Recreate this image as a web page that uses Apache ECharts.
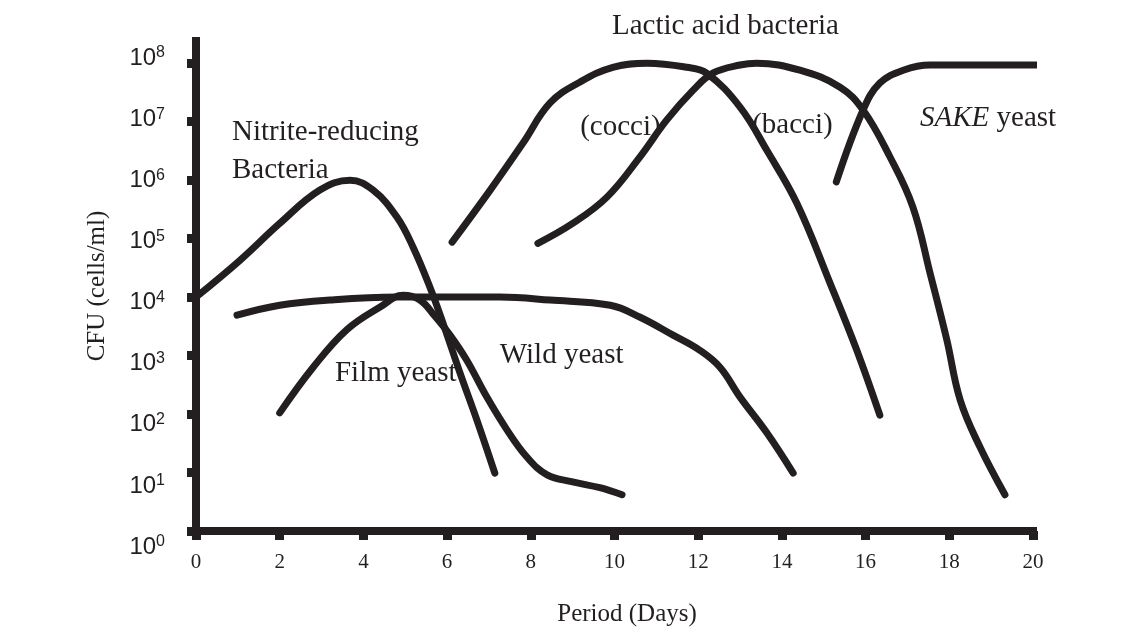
<!DOCTYPE html>
<html>
<head>
<meta charset="utf-8">
<script src="https://cdn.jsdelivr.net/npm/echarts@6/dist/echarts.min.js"></script>
<style>
html,body{margin:0;padding:0;background:#fff;}
#chart{width:1143px;height:632px;}
</style>
</head>
<body>
<div id="chart"></div>
<script>
// Days (x) and log10(CFU per ml) (y)
const nitriteReducing = [[0,4.0],[1.05,4.63],[2.0,5.26],[2.96,5.83],[3.68,6.0],[4.23,5.83],[4.8,5.37],[5.19,4.85],[5.59,4.17],[5.9,3.56],[6.31,2.7],[6.71,1.9],[7.14,0.99]];
const filmYeast = [[2.0,2.02],[2.8,2.8],[3.6,3.44],[4.4,3.83],[4.95,4.03],[5.35,3.95],[5.7,3.68],[6.07,3.35],[6.47,2.92],[6.95,2.29],[7.43,1.73],[7.9,1.27],[8.39,0.96],[9.0,0.84],[9.65,0.74],[10.18,0.62]];
const wildYeast = [[0.98,3.69],[2.0,3.86],[3.2,3.95],[4.8,4.0],[6.0,4.0],[7.26,4.0],[8.46,3.95],[9.9,3.86],[10.6,3.66],[11.4,3.35],[12.04,3.09],[12.52,2.8],[13.0,2.29],[13.64,1.68],[14.27,0.99]];
const lacticCocci = [[6.12,4.94],[7.03,5.83],[7.81,6.63],[8.46,7.32],[9.18,7.68],[9.96,7.93],[10.78,8.0],[11.73,7.93],[12.2,7.83],[13.0,7.25],[13.64,6.51],[14.36,5.6],[15.15,4.24],[15.79,3.09],[16.34,1.98]];
const lacticBacci = [[8.17,4.92],[9.0,5.26],[9.82,5.71],[10.6,6.39],[11.25,7.03],[11.88,7.54],[12.35,7.83],[13.0,7.97],[13.4,8.0],[14.43,7.88],[15.39,7.59],[15.94,7.2],[16.58,6.4],[17.13,5.54],[17.54,4.41],[17.94,3.27],[18.26,2.24],[18.73,1.44],[19.33,0.62]];
const sakeYeast = [[15.3,5.97],[15.94,7.2],[16.34,7.66],[16.9,7.88],[17.54,7.97],[18.1,7.97],[20.4,7.97]];

const xTicks = [0,2,4,6,8,10,12,14,16,18,20];
const yExponents = [0,1,2,3,4,5,6,7,8];

// Annotation texts placed in data coordinates [day, log10 CFU]
const annotations = [
  {text:'Lactic acid bacteria', at:[9.94,8.63]},
  {text:'Nitrite-reducing\nBacteria', at:[0.86,6.49]},
  {text:'(cocci)', at:[9.18,6.91]},
  {text:'(bacci)', at:[13.29,6.94]},
  {text:'{i|SAKE} yeast', at:[17.30,7.06]},
  {text:'Film yeast', at:[3.32,2.70]},
  {text:'Wild yeast', at:[7.26,3.01]}
];

const INK = '#231f20';
const SERIF = 'Liberation Serif';
const SANS = 'Liberation Sans';

function curve(name, data){
  return {
    name, type:'line', data, xAxisIndex:0, yAxisIndex:0,
    smooth:0.4, showSymbol:false, symbol:'none', clip:false, silent:true,
    lineStyle:{color:INK, width:7, cap:'round', join:'round'}
  };
}

const chart = echarts.init(document.getElementById('chart'), null, {renderer:'canvas'});
chart.setOption({
  animation:false,
  backgroundColor:'#fff',
  grid:[
    {left:196, right:110, top:41, bottom:101, containLabel:false, outerBoundsMode:'none'},
    {left:196, right:110, top:58, bottom:85, containLabel:false, outerBoundsMode:'none'}
  ],
  xAxis:[
    {
      gridIndex:0, type:'value', min:0, max:20, interval:2,
      name:'Period (Days)', nameLocation:'middle', nameGap:71,
      nameTextStyle:{fontFamily:SERIF, fontSize:25, color:INK, padding:[0,0,0,25]},
      axisLine:{show:true, onZero:false, lineStyle:{color:INK, width:8, cap:'square'}},
      axisTick:{show:true, inside:false, length:9, lineStyle:{color:INK, width:9}, customValues:xTicks},
      axisLabel:{show:true, fontFamily:SERIF, fontSize:21, color:INK, margin:21, customValues:xTicks},
      splitLine:{show:false}
    },
    {gridIndex:1, type:'value', min:0, max:20, show:false}
  ],
  yAxis:[
    {
      gridIndex:0, type:'value', min:0, max:8.38, interval:1,
      name:'CFU (cells/ml)', nameLocation:'middle', nameGap:86,
      nameTextStyle:{fontFamily:SERIF, fontSize:25, color:INK},
      axisLine:{show:true, onZero:false, lineStyle:{color:INK, width:8, cap:'square'}},
      axisTick:{show:true, inside:false, length:9, lineStyle:{color:INK, width:9}, customValues:yExponents},
      axisLabel:{show:false},
      splitLine:{show:false}
    },
    {
      gridIndex:1, type:'value', min:0, max:8, interval:1,
      axisLine:{show:false}, axisTick:{show:false}, splitLine:{show:false},
      axisLabel:{
        show:true, margin:31, customValues:yExponents,
        formatter:v => '{b|10}{s|' + v + '}',
        rich:{
          b:{fontFamily:SANS, fontSize:24, color:INK, lineHeight:26},
          s:{fontFamily:SANS, fontSize:16, color:INK, verticalAlign:'top', lineHeight:20}
        }
      }
    }
  ],
  series:[
    curve('Nitrite-reducing Bacteria', nitriteReducing),
    curve('Film yeast', filmYeast),
    curve('Wild yeast', wildYeast),
    curve('Lactic acid bacteria (cocci)', lacticCocci),
    curve('Lactic acid bacteria (bacci)', lacticBacci),
    curve('SAKE yeast', sakeYeast),
    {
      type:'scatter', xAxisIndex:0, yAxisIndex:0, symbolSize:0, clip:false, silent:true,
      itemStyle:{opacity:1, color:INK},
      data:annotations.map(a => ({name:a.text, value:a.at})),
      label:{
        show:true, position:'inside', align:'left', verticalAlign:'middle', opacity:1,
        formatter:'{b}', fontFamily:SERIF, fontSize:29, lineHeight:38, color:INK,
        textBorderWidth:0,
        rich:{i:{fontFamily:SERIF, fontSize:29, fontStyle:'italic', color:INK, textBorderWidth:0}}
      }
    }
  ]
});
</script>
</body>
</html>
